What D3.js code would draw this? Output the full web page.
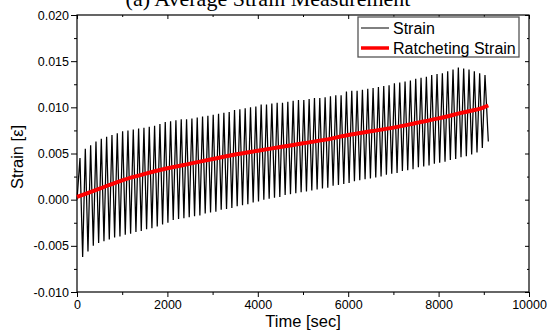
<!DOCTYPE html>
<html>
<head>
<meta charset="utf-8">
<script src="https://cdn.jsdelivr.net/npm/d3@7"></script>
<style>
  body { margin: 0; background: #fff; }
  svg { display: block; }
</style>
</head>
<body>
<svg id="chart" width="547" height="333"></svg>
<script>
// Peak / valley of each loading cycle
const peakStrain = [
  0.0045, 0.0055, 0.0059, 0.0063, 0.0066, 0.0068, 0.0070, 0.0072, 0.0074, 0.0075,
  0.0076, 0.0077, 0.0078, 0.0079, 0.0080, 0.0082, 0.0084, 0.0085, 0.0086, 0.0087,
  0.0087, 0.0088, 0.0089, 0.0090, 0.0091, 0.0092, 0.0093, 0.0094, 0.0095, 0.0097,
  0.0098, 0.0099, 0.0100, 0.0101, 0.0103, 0.0103, 0.0104, 0.0105, 0.0105, 0.0106,
  0.0107, 0.0108, 0.0108, 0.0109, 0.0110, 0.0110, 0.0111, 0.0112, 0.0113, 0.0113,
  0.0117, 0.0118, 0.0118, 0.0119, 0.0120, 0.0121, 0.0122, 0.0123, 0.0124, 0.0126,
  0.0127, 0.0128, 0.0129, 0.0131, 0.0132, 0.0133, 0.0135, 0.0136, 0.0137, 0.0139,
  0.0141, 0.0143, 0.0142, 0.0141, 0.0139, 0.0137, 0.0135
];
const valleyStrain = [
  -0.0062, -0.0056, -0.0050, -0.0047, -0.0045, -0.0043, -0.0041, -0.0040, -0.0038, -0.0037,
  -0.0035, -0.0034, -0.0032, -0.0031, -0.0029, -0.0027, -0.0025, -0.0022, -0.0021, -0.0020,
  -0.0019, -0.0018, -0.0017, -0.0015, -0.0014, -0.0013, -0.0011, -0.0010, -0.0009, -0.0007,
  -0.0006, -0.0005, -0.0003, -0.0002, 0.0000, 0.0001, 0.0002, 0.0003, 0.0005, 0.0006,
  0.0007, 0.0008, 0.0009, 0.0010, 0.0011, 0.0012, 0.0013, 0.0015, 0.0016, 0.0017,
  0.0018, 0.0020, 0.0021, 0.0022, 0.0023, 0.0024, 0.0025, 0.0027, 0.0028, 0.0029,
  0.0031, 0.0032, 0.0033, 0.0035, 0.0036, 0.0037, 0.0039, 0.0040, 0.0041, 0.0043,
  0.0044, 0.0046, 0.0047, 0.0049, 0.0051, 0.0056
];
const startStrain = 0.0;
const endStrain = 0.0063;
const firstPeakTime = 66;
const cyclePeriod = 117.9;
const endTime = 9100;

const ratchetTime = [0, 500, 1000, 1500, 2000, 2500, 3000, 3500, 4000, 4500,
  5000, 5500, 6000, 6500, 7000, 7500, 8000, 8500, 9000, 9100];
const ratchetStrain = [0.0003, 0.0012, 0.0021, 0.0028, 0.0034, 0.0039, 0.0044, 0.0049, 0.0053, 0.0057,
  0.0061, 0.0065, 0.0070, 0.0074, 0.0078, 0.0083, 0.0088, 0.0094, 0.0100, 0.0102];

const xMajorTicks = [0, 2000, 4000, 6000, 8000, 10000];
const xMinorTicks = [1000, 3000, 5000, 7000, 9000];
const yMajorTicks = [-0.010, -0.005, 0.000, 0.005, 0.010, 0.015, 0.020];
const yMinorTicks = [-0.0075, -0.0025, 0.0025, 0.0075, 0.0125, 0.0175];
const legendLabels = ['Strain', 'Ratcheting Strain'];
const legendColors = ['#000', '#ff0000'];

const titleText = '(a) Average Strain Measurement';
const xLabel = 'Time [sec]';
const yLabel = 'Strain [\u03b5]';

const margin = {left: 77, top: 15, right: 18, bottom: 41};
const width = 547 - margin.left - margin.right;
const height = 333 - margin.top - margin.bottom;

const svg = d3.select('#chart');
const sansFont = '"Liberation Sans", Arial, sans-serif';

const x = d3.scaleLinear().domain([0, 10000]).range([0, width]);
const y = d3.scaleLinear().domain([-0.010, 0.020]).range([height, 0]);

// build the zigzag strain trace
const strainPoints = [{t: 0, v: startStrain}];
peakStrain.forEach((p, i) => {
  const tp = firstPeakTime + i * cyclePeriod;
  strainPoints.push({t: tp, v: p});
  if (i < valleyStrain.length) {
    strainPoints.push({t: tp + cyclePeriod / 2, v: valleyStrain[i]});
  }
});
strainPoints.push({t: endTime, v: endStrain});

const g = svg.append('g').attr('transform', `translate(${margin.left},${margin.top})`);

// title (top half runs off the page, as in the source figure)
svg.append('text')
  .attr('x', 268)
  .attr('y', 6)
  .attr('text-anchor', 'middle')
  .style('font-family', '"Liberation Serif", "Times New Roman", serif')
  .style('font-size', '22px')
  .text(titleText);

const yFmt = d => d3.format('.3f')(d).replace('\u2212', '-');

function styleAxis(sel) {
  sel.select('.domain').remove();
  sel.selectAll('line').attr('stroke', '#000').attr('stroke-width', 1);
  sel.selectAll('text')
    .style('font-family', sansFont)
    .style('font-size', '12.5px')
    .attr('fill', '#000');
}

// bottom
g.append('g').attr('transform', `translate(0,${height})`)
  .call(d3.axisBottom(x).tickValues(xMajorTicks).tickSize(5).tickPadding(3)
    .tickFormat(d3.format('d')))
  .call(styleAxis);
g.append('g').attr('transform', `translate(0,${height})`)
  .call(d3.axisBottom(x).tickValues(xMinorTicks).tickSize(3).tickFormat(''))
  .call(styleAxis);
// top (inward)
g.append('g')
  .call(d3.axisBottom(x).tickValues(xMajorTicks).tickSize(4).tickFormat(''))
  .call(styleAxis);
g.append('g')
  .call(d3.axisBottom(x).tickValues(xMinorTicks).tickSize(2).tickFormat(''))
  .call(styleAxis);
// left
g.append('g')
  .call(d3.axisLeft(y).tickValues(yMajorTicks).tickSize(6).tickPadding(2).tickFormat(yFmt))
  .call(styleAxis);
g.append('g')
  .call(d3.axisLeft(y).tickValues(yMinorTicks).tickSize(3).tickFormat(''))
  .call(styleAxis);
// right (inward)
g.append('g').attr('transform', `translate(${width},0)`)
  .call(d3.axisLeft(y).tickValues(yMajorTicks).tickSize(4).tickFormat(''))
  .call(styleAxis);
g.append('g').attr('transform', `translate(${width},0)`)
  .call(d3.axisLeft(y).tickValues(yMinorTicks).tickSize(2).tickFormat(''))
  .call(styleAxis);

// frame
g.append('rect')
  .attr('x', 0).attr('y', 0)
  .attr('width', width).attr('height', height)
  .attr('fill', 'none')
  .attr('stroke', '#000')
  .attr('stroke-width', 1.2);

// strain trace
g.append('path')
  .datum(strainPoints)
  .attr('fill', 'none')
  .attr('stroke', '#000')
  .attr('stroke-width', 1.25)
  .attr('stroke-linejoin', 'miter')
  .attr('d', d3.line().x(d => x(d.t)).y(d => y(d.v)));

// ratcheting strain
g.append('path')
  .datum(ratchetTime.map((t, i) => ({t: t, v: ratchetStrain[i]})))
  .attr('fill', 'none')
  .attr('stroke', legendColors[1])
  .attr('stroke-width', 4)
  .attr('d', d3.line().curve(d3.curveMonotoneX).x(d => x(d.t)).y(d => y(d.v)));

// legend
const legend = svg.append('g').attr('transform', 'translate(358,17)');
legend.append('rect')
  .attr('width', 161).attr('height', 40)
  .attr('fill', '#fff')
  .attr('stroke', '#555')
  .attr('stroke-width', 1.3);
legendLabels.forEach((label, i) => {
  const ly = 11 + i * 20;
  legend.append('line')
    .attr('x1', 3).attr('x2', 31)
    .attr('y1', ly).attr('y2', ly)
    .attr('stroke', legendColors[i])
    .attr('stroke-width', i === 0 ? 1 : 3.5);
  legend.append('text')
    .attr('x', 35).attr('y', ly + 5.5)
    .style('font-family', sansFont)
    .style('font-size', '16px')
    .text(label);
});

// axis titles
svg.append('text')
  .attr('x', margin.left + width / 2)
  .attr('y', 327)
  .attr('text-anchor', 'middle')
  .style('font-family', sansFont)
  .style('font-size', '16.5px')
  .text(xLabel);

svg.append('text')
  .attr('transform', 'translate(23,157) rotate(-90)')
  .attr('text-anchor', 'middle')
  .style('font-family', sansFont)
  .style('font-size', '16.5px')
  .text(yLabel);
</script>
</body>
</html>
